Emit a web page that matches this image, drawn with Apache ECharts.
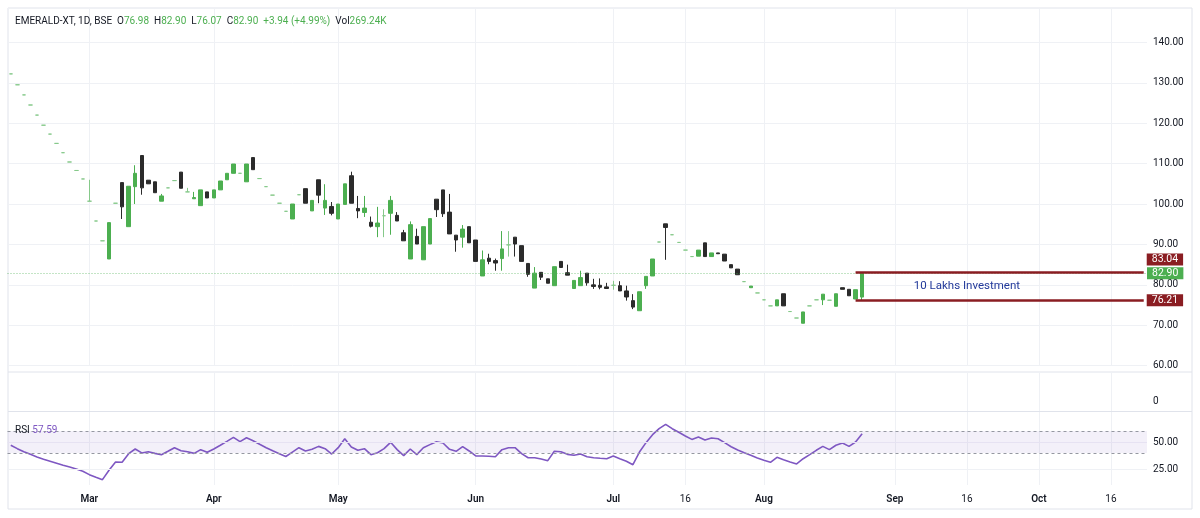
<!DOCTYPE html>
<html>
<head>
<meta charset="utf-8">
<title>EMERALD-XT</title>
<script src="https://cdn.jsdelivr.net/npm/echarts@6/dist/echarts.min.js"></script>
<style>
    html, body { margin: 0; padding: 0; background: #fff; }
    #chart { width: 1200px; height: 518px; }
</style>
</head>
<body>
<div id="chart"></div>
<script>
// daily candles (one per trading day)
var opens = [132.2, 129.5, 127.0, 124.5, 122.0, 119.5, 117.3, 115.0, 112.7, 110.4, 108.3, 106.2, 100.7, 95.8, 90.9, 86.4, 100.2, 105.3, 94.4, 104.3,
    112.0, 105.9, 105.5, 100.7, 104.0, 105.8, 107.9, 103.0, 101.3, 99.6, 103.0, 101.5, 103.5, 106.0, 107.6, 107.6, 105.5, 111.5, 106.3, 104.3,
    102.2, 100.2, 98.2, 96.3, 102.3, 103.8, 98.3, 106.0, 99.0, 99.4, 96.3, 99.9, 107.0, 98.9, 97.9, 95.5, 94.4, 97.1, 97.7, 97.2,
    92.9, 86.4, 92.0, 86.2, 90.1, 101.2, 103.5, 98.0, 92.3, 91.8, 94.4, 91.1, 82.2, 86.6, 86.0, 86.5, 89.9, 91.8, 89.7, 85.3,
    79.2, 83.1, 81.5, 79.8, 85.8, 83.0, 79.1, 79.8, 82.9, 80.0, 79.9, 79.5, 79.9, 79.8, 78.5, 76.1, 73.6, 79.8, 82.2, 90.6,
    95.1, 92.4, 90.5, 88.6, 87.0, 87.1, 90.4, 87.0, 87.9, 87.6, 85.0, 83.9, 80.8, 79.3, 78.0, 76.3, 74.8, 74.8, 77.8, 73.4,
    71.8, 70.5, 74.8, 76.3, 76.3, 76.2, 74.7, 79.3, 78.9, 76.5, 76.98];
var closes = [132.2, 129.5, 127.0, 124.5, 122.0, 119.5, 117.3, 115.0, 112.7, 110.4, 108.3, 106.2, 100.7, 95.8, 90.9, 95.4, 100.2, 99.3, 104.4, 107.6,
    104.0, 105.0, 102.8, 102.0, 104.0, 105.8, 103.9, 103.0, 101.6, 103.5, 101.5, 103.5, 105.7, 107.6, 109.9, 107.6, 109.9, 108.5, 106.3, 104.3,
    102.2, 100.2, 98.2, 100.0, 102.3, 100.2, 100.9, 102.2, 100.9, 97.7, 100.0, 105.0, 100.2, 98.3, 99.0, 94.5, 95.3, 97.1, 100.9, 95.8,
    90.9, 94.9, 90.1, 94.4, 96.4, 98.6, 97.6, 92.6, 91.1, 93.8, 90.4, 85.8, 86.2, 85.8, 85.4, 88.9, 89.9, 90.1, 85.8, 82.6,
    82.9, 81.9, 80.4, 84.5, 84.3, 82.4, 81.1, 81.8, 80.5, 79.6, 79.4, 79.1, 79.9, 78.5, 77.0, 74.5, 78.3, 82.1, 86.4, 90.6,
    94.2, 92.4, 90.5, 88.6, 87.0, 88.6, 87.0, 87.9, 87.7, 85.9, 84.2, 82.5, 80.8, 79.7, 78.0, 76.3, 74.8, 76.3, 74.8, 73.4,
    71.8, 73.3, 74.8, 76.3, 77.7, 76.2, 77.8, 78.9, 77.3, 78.8, 82.9];
var lows = [132.2, 129.5, 127.0, 124.5, 122.0, 119.5, 117.3, 115.0, 112.7, 110.4, 108.3, 106.2, 100.7, 95.8, 90.9, 86.4, 100.2, 96.3, 94.4, 100.0,
    102.3, 105.0, 102.8, 100.7, 104.0, 105.8, 103.9, 103.0, 101.3, 99.6, 101.5, 101.5, 103.5, 106.0, 107.6, 107.6, 105.5, 108.5, 106.3, 104.3,
    102.2, 100.2, 98.2, 96.3, 102.3, 100.2, 98.3, 100.2, 97.3, 97.2, 96.3, 99.9, 100.2, 96.5, 96.8, 94.2, 91.8, 91.8, 92.4, 95.8,
    90.9, 86.4, 90.1, 86.2, 90.1, 96.8, 96.8, 92.6, 88.2, 89.2, 90.4, 85.8, 82.2, 85.1, 83.5, 83.5, 87.0, 87.0, 85.8, 82.0,
    79.2, 81.2, 80.4, 79.8, 84.3, 82.4, 79.1, 79.8, 79.8, 79.0, 78.9, 79.1, 78.8, 78.5, 76.1, 74.0, 73.6, 79.0, 82.2, 90.6,
    86.2, 92.4, 90.5, 88.6, 87.0, 87.1, 87.0, 87.0, 87.7, 85.9, 84.2, 82.5, 80.8, 79.3, 78.0, 76.3, 74.8, 74.8, 74.8, 73.4,
    71.8, 70.5, 74.8, 76.3, 75.0, 76.2, 74.7, 78.9, 77.3, 76.5, 76.07];
var highs = [132.2, 129.5, 127.0, 124.5, 122.0, 119.5, 117.3, 115.0, 112.7, 110.4, 108.3, 106.2, 106.0, 95.8, 90.9, 95.4, 100.2, 105.3, 104.4, 109.6,
    112.0, 105.9, 105.5, 102.5, 104.0, 105.8, 107.9, 104.0, 103.0, 103.5, 103.0, 103.5, 105.7, 107.6, 109.9, 107.6, 109.9, 111.5, 106.3, 104.3,
    102.2, 100.2, 98.2, 100.0, 102.3, 103.8, 100.9, 106.0, 104.9, 100.5, 100.0, 105.0, 108.0, 102.0, 102.0, 96.9, 99.3, 98.7, 102.0, 98.0,
    93.6, 95.7, 93.9, 94.4, 96.4, 101.2, 103.5, 102.5, 92.3, 94.8, 94.4, 91.1, 88.5, 87.7, 86.5, 93.3, 93.3, 91.8, 89.7, 85.3,
    84.4, 83.1, 81.5, 84.5, 85.8, 85.0, 81.1, 83.5, 82.9, 81.5, 81.6, 80.5, 81.0, 80.9, 79.8, 77.7, 78.3, 82.1, 86.4, 90.6,
    95.1, 92.4, 90.5, 88.6, 87.0, 88.6, 90.4, 87.9, 87.9, 87.6, 85.0, 83.9, 80.8, 79.7, 78.0, 76.3, 74.8, 76.3, 77.8, 73.4,
    71.8, 73.3, 74.8, 76.3, 77.7, 76.2, 77.8, 79.3, 78.9, 78.8, 82.9];

// RSI(14) line, one value per candle
var rsiValues = [47.0, 43.9, 41.1, 38.7, 36.3, 34.1, 32.3, 30.5, 28.7, 27.1, 25.3, 23.2, 20.1, 17.7, 15.5, 24.1, 31.7, 31.4, 39.3, 43.6,
    40.0, 41.1, 39.6, 38.4, 41.5, 44.8, 42.0, 41.1, 39.6, 43.0, 40.6, 43.6, 47.0, 50.6, 54.3, 50.3, 53.9, 51.2, 47.9, 44.8,
    42.0, 39.3, 36.7, 40.8, 44.8, 41.8, 43.3, 46.0, 43.9, 39.0, 44.8, 53.0, 45.4, 42.4, 43.9, 38.4, 40.2, 43.9, 49.7, 43.0,
    37.5, 43.6, 38.4, 44.8, 47.6, 50.3, 49.1, 43.3, 41.5, 45.7, 41.8, 37.2, 37.2, 36.9, 36.5, 43.0, 44.8, 44.8, 39.3, 35.6,
    35.6, 34.4, 32.9, 41.5, 41.1, 38.7, 37.8, 39.0, 36.5, 35.6, 35.1, 34.7, 37.2, 34.7, 32.3, 29.2, 40.8, 49.4, 56.7, 62.2,
    66.2, 62.2, 58.9, 55.5, 52.4, 54.6, 51.8, 53.7, 53.0, 49.4, 45.7, 42.7, 40.2, 37.8, 35.3, 33.2, 31.4, 36.0, 33.8, 31.7,
    29.9, 34.7, 38.4, 42.4, 46.0, 43.0, 47.0, 49.1, 46.0, 50.0, 57.59];
var rsiBands = [40, 60];
var rsiGridValues = [25, 50];

// the time axis: trading-day slots, the last ones are still empty
var slotCount = 174;
var tickIndex = [12, 31, 50, 71, 92, 103, 115, 135, 146, 157, 168];
var tickLabels = ['Mar', 'Apr', 'May', 'Jun', 'Jul', '16', 'Aug', 'Sep', '16', 'Oct', '16'];

// levels drawn on the price pane
var lastClose = 82.90;
var boxTop = 83.04;
var boxBottom = 76.21;
var boxStart = 129;
var boxNote = '10 Lakhs Investment';
var noteAt = [146, 79.75];

// header legend
var symbolName = 'EMERALD-XT, 1D, BSE';
var ohlcKeys = ['O', 'H', 'L', 'C'];
var ohlcValues = ['76.98', '82.90', '76.07', '82.90'];
var changeText = '+3.94 (+4.99%)';
var volumeText = '269.24K';

var UP = '#4caf50', DOWN = '#2b2b2b', MAROON = '#8a1d22', TEXT = '#131722', GRID = '#eff1f5', EDGE = '#e0e3eb';
var FONT = 'Roboto';

var categories = [];
for (var i = 0; i < slotCount; i++) categories.push(String(i));

var candles = [];
for (var k = 0; k < opens.length; k++) {
    candles.push([opens[k], closes[k], lows[k], highs[k]]);
}

function isTick(index) {
    return tickIndex.indexOf(index) >= 0;
}

function tickText(value, index) {
    var j = tickIndex.indexOf(index);
    if (j < 0) return '';
    var t = tickLabels[j];
    return /^\d+$/.test(t) ? '{d|' + t + '}' : '{m|' + t + '}';
}

function xAxisFor(gridIndex, showLabels) {
    return {
        type: 'category',
        gridIndex: gridIndex,
        data: categories,
        boundaryGap: true,
        axisLine: {show: false},
        axisTick: {show: false, alignWithLabel: true},
        splitLine: {show: true, interval: isTick, alignWithLabel: true, lineStyle: {color: GRID, width: 1}},
        axisLabel: {
            show: showLabels,
            interval: isTick,
            formatter: tickText,
            margin: 9,
            rich: {
                m: {fontFamily: FONT, fontSize: 10, fontWeight: 600, color: TEXT},
                d: {fontFamily: FONT, fontSize: 10, color: TEXT}
            }
        }
    };
}

var axisLabelStyle = {fontFamily: FONT, fontSize: 10, color: TEXT, margin: 6};

function priceTag(text, color, dist, dy) {
    return {
        position: 'end', distance: dist, offset: [0, dy], formatter: text,
        backgroundColor: color, color: '#fff', fontFamily: FONT, fontSize: 10.5,
        lineHeight: 12, padding: [0, 5]
    };
}

var headerText = '{d|' + symbolName + '}';
for (var h = 0; h < ohlcKeys.length; h++) {
    headerText += '  {d|' + ohlcKeys[h] + '}{g|' + ohlcValues[h] + '}';
}
headerText += '  {g|' + changeText + '}  {d|Vol}{g|' + volumeText + '}';

var chart = echarts.init(document.getElementById('chart'));

chart.setOption({
    animation: false,
    backgroundColor: '#fff',
    title: [{
        left: 15, top: 16, padding: 0,
        text: headerText,
        textStyle: {
            fontWeight: 'normal', fontFamily: FONT, fontSize: 10, color: TEXT,
            rich: {
                d: {fontFamily: FONT, fontSize: 10, fontWeight: 'normal', color: TEXT},
                g: {fontFamily: FONT, fontSize: 10, fontWeight: 'normal', color: UP}
            }
        }
    }, {
        left: 15, top: 425, padding: 0,
        text: '{d|RSI} {p|' + rsiValues[rsiValues.length - 1].toFixed(2) + '}',
        textStyle: {
            fontWeight: 'normal', fontFamily: FONT, fontSize: 10, color: TEXT,
            rich: {
                d: {fontFamily: FONT, fontSize: 10, fontWeight: 'normal', color: TEXT},
                p: {fontFamily: FONT, fontSize: 10, fontWeight: 'normal', color: '#7e57c2'}
            }
        }
    }],
    graphic: [
        {type: 'rect', silent: true, z: -1, shape: {x: 8, y: 8, width: 1184, height: 501}, style: {fill: 'none', stroke: EDGE, lineWidth: 1}},
        {type: 'line', silent: true, shape: {x1: 8, y1: 372, x2: 1192, y2: 372}, style: {stroke: EDGE, lineWidth: 1}},
        {type: 'line', silent: true, shape: {x1: 8, y1: 411.5, x2: 1192, y2: 411.5}, style: {stroke: EDGE, lineWidth: 1}}
    ],
    grid: [
        {left: 7.5, right: 53, top: 8, height: 357.7, outerBoundsMode: 'none'},
        {left: 7.5, right: 53, top: 372, height: 39, outerBoundsMode: 'none'},
        {left: 7.5, right: 53, top: 412, height: 73, outerBoundsMode: 'none'}
    ],
    xAxis: [xAxisFor(0, false), xAxisFor(1, false), xAxisFor(2, true)],
    yAxis: [{
        gridIndex: 0, type: 'value', position: 'right', scale: true,
        min: 60, max: 148.5, interval: 10,
        axisLine: {show: false}, axisTick: {show: false},
        splitLine: {lineStyle: {color: GRID}},
        axisLabel: Object.assign({showMaxLabel: false, formatter: function (v) { return v.toFixed(2); }}, axisLabelStyle)
    }, {
        gridIndex: 1, type: 'value', position: 'right',
        min: -10, max: 29,
        axisLine: {show: false}, axisTick: {show: false}, splitLine: {show: false},
        axisLabel: Object.assign({customValues: [0]}, axisLabelStyle)
    }, {
        gridIndex: 2, type: 'value', position: 'right',
        min: 10.6, max: 77.5,
        axisLine: {show: false}, axisTick: {show: false}, splitLine: {show: false},
        axisLabel: Object.assign({customValues: rsiGridValues, formatter: function (v) { return v.toFixed(2); }}, axisLabelStyle)
    }],
    series: [{
        name: 'price',
        type: 'candlestick',
        xAxisIndex: 0,
        yAxisIndex: 0,
        data: candles,
        barWidth: 4,
        itemStyle: {
            color: UP, color0: DOWN,
            borderColor: UP, borderColor0: DOWN,
            borderColorDoji: '#86c98a',
            borderWidth: 1
        },
        markLine: {
            silent: true,
            symbol: ['none', 'none'],
            animation: false,
            data: [
                {
                    yAxis: lastClose,
                    lineStyle: {color: 'rgba(76,175,80,0.65)', type: [1, 2], width: 1},
                    label: priceTag(lastClose.toFixed(2), UP, 0, 0)
                },
                [{
                    coord: [boxStart, boxTop],
                    lineStyle: {color: MAROON, type: 'solid', width: 2.5},
                    label: priceTag(boxTop.toFixed(2), MAROON, 3, -13)
                }, {coord: [slotCount - 1, boxTop]}],
                [{
                    coord: [boxStart, boxBottom],
                    lineStyle: {color: MAROON, type: 'solid', width: 2.5},
                    label: priceTag(boxBottom.toFixed(2), MAROON, 3, 0)
                }, {coord: [slotCount - 1, boxBottom]}]
            ]
        },
        markPoint: {
            silent: true,
            animation: false,
            data: [{
                coord: noteAt,
                symbol: 'circle', symbolSize: 1,
                itemStyle: {color: 'rgba(0,0,0,0)'},
                label: {
                    show: true, position: 'inside', formatter: boxNote,
                    color: '#22399a', fontFamily: FONT, fontSize: 11.5
                }
            }]
        }
    }, {
        name: 'RSI',
        type: 'line',
        xAxisIndex: 2,
        yAxisIndex: 2,
        data: rsiValues,
        symbol: 'none',
        lineStyle: {color: '#7e57c2', width: 1.6},
        z: 3,
        markArea: {
            silent: true,
            itemStyle: {color: 'rgba(126,87,194,0.09)'},
            data: [[{yAxis: rsiBands[0]}, {yAxis: rsiBands[1]}]]
        },
        markLine: {
            silent: true,
            symbol: ['none', 'none'],
            label: {show: false},
            data: [
                {yAxis: rsiGridValues[0], lineStyle: {color: GRID, type: 'solid', width: 1}},
                {yAxis: rsiGridValues[1], lineStyle: {color: '#e6e2f2', type: 'solid', width: 1}},
                {yAxis: rsiBands[0], lineStyle: {color: '#9598a1', type: [3, 3], width: 1}},
                {yAxis: rsiBands[1], lineStyle: {color: '#9598a1', type: [3, 3], width: 1}}
            ]
        }
    }]
});
</script>
</body>
</html>
